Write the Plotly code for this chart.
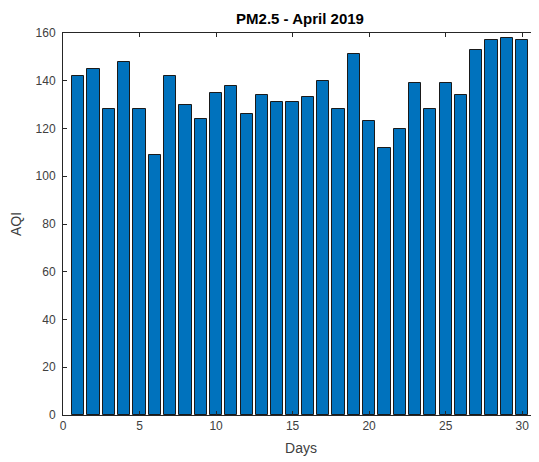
import plotly.graph_objects as go

days = list(range(1, 31))
aqi = [142, 145, 128, 148, 128, 109, 142, 130, 124, 135,
       138, 126, 134, 131, 131, 133, 140, 128, 151, 123,
       112, 120, 139, 128, 139, 134, 153, 157, 158, 157]
x_ticks = [0, 5, 10, 15, 20, 25, 30]
y_ticks = [0, 20, 40, 60, 80, 100, 120, 140, 160]

axis_color = "#262626"
font_family = "Liberation Sans, Arial, sans-serif"

# The page body has an 8px margin; size the figure so it fits the window.
W, H = 531, 454

fig = go.Figure(go.Bar(
    x=days, y=aqi, width=0.8,
    marker=dict(color="#0072BD", line=dict(color="#1a1a1a", width=1)),
))

fig.update_layout(
    width=W, height=H,
    margin=dict(l=55, r=0, t=25, b=47, autoexpand=False),
    paper_bgcolor="white", plot_bgcolor="white",
    font=dict(family=font_family, size=12, color="#404040"),
    title=dict(text="<b>PM2.5 - April 2019</b>", x=(300 - 8) / W, xanchor="center",
               xref="container", yref="container",
               y=1 - 10.5 / H, yanchor="middle",
               font=dict(size=15, color="black", family=font_family)),
    showlegend=False,
    bargap=0,
)
fig.update_xaxes(
    range=[0, 31.1], tickvals=x_ticks, ticktext=[str(v) for v in x_ticks],
    showline=True, linecolor=axis_color, linewidth=1, mirror="ticks",
    ticks="inside", ticklen=4, tickcolor=axis_color, showgrid=False, zeroline=False,
    automargin=False,
    title=dict(text="Days", standoff=10, font=dict(size=14)),
)
fig.update_yaxes(
    range=[0, 160], tickvals=y_ticks, ticktext=[str(v) for v in y_ticks],
    showline=True, linecolor=axis_color, linewidth=1, mirror="ticks",
    ticks="inside", ticklen=4, tickcolor=axis_color, showgrid=False, zeroline=False,
    automargin=False, ticklabelstandoff=4,
    title=dict(text="AQI", standoff=12, font=dict(size=14)),
)

fig.write_html("out.html")
